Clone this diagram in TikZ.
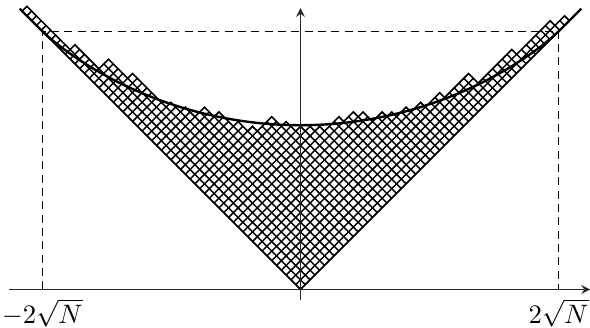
\documentclass[tikz,border=0pt]{standalone}
\usepackage{amsmath}
\usetikzlibrary{arrows.meta}

\begin{document}
\begin{tikzpicture}[
    x=1.8pt, y=1.8pt,
    >=stealth,
    axis/.style={->, line width=0.45pt, black!85},
    guide/.style={line width=0.4pt, dash pattern=on 3pt off 2pt},
    cell/.style={line width=0.55pt, line join=miter},
    limit/.style={line width=0.9pt}
]
\useasboundingbox (-62.6,-7.83) rectangle (60.3,60.3);

% Corners of the diagram outline (up and down steps)
\def\corners{-57/59, -48/50, -47/51, -42/46, -40/48, -36/44, -35/45,
  -28/38, -27/39, -25/37, -24/38, -22/36, -20/38, -18/36, -17/37,
  -14/34, -13/35, -11/33, -10/34, -9/33, -6/36, -4/34, -3/35, -1/33,
  0/34, 1/33, 2/34, 3/33, 4/34, 5/33, 8/36, 9/35, 11/37, 12/36, 13/37,
  15/35, 17/37, 18/36, 19/37, 20/36, 22/38, 23/37, 25/39, 26/38, 29/41,
  30/40, 35/45, 37/43, 44/50, 45/49, 52/56, 53/55, 55/57, 56/56}

% Dashed guides at +-2 sqrt N
\coordinate (gl) at (-53.75,0);
\coordinate (gr) at (53.75,0);
\coordinate (tl) at (-53.75,53.75);
\coordinate (tr) at (53.75,53.75);
\draw[guide] (gl) -- (tl) -- (tr) -- (gr);

% Cells
\begin{scope}
    \clip (0,0) -- (-58,58) \foreach \x/\y in \corners {-- (\x,\y)} -- cycle;
    \foreach \r in {0,...,58}
        \draw[cell] (-\r,\r) -- ++(62,62);
    \foreach \c in {0,...,56}
        \draw[cell] (\c,\c) -- ++(-62,62);
\end{scope}
\draw[cell] (0,0) -- (-58,58) \foreach \x/\y in \corners {-- (\x,\y)} -- cycle;

% Limit shape
\draw[limit] (-58.5,58.5) -- (tl)
    -- plot[domain=-53.7:53.7, samples=121]
       (\x, {0.63662*(\x*rad(asin(\x/53.75)) + sqrt(max(0,2889.0625-\x*\x)))})
    -- (tr) -- (58.5,58.5);

% Axes
\coordinate (xa) at (-60.7,0);
\coordinate (xb) at (60.3,0);
\coordinate (ya) at (0,-2.2);
\coordinate (yb) at (0,58.6);
\draw[axis] (xa) -- (xb);
\draw[axis] (ya) -- (yb);

% Labels
\node[below] (lminus) at (gl) {$-2\sqrt{N}$};
\node[below] (lplus) at (gr) {$2\sqrt{N}$};

\end{tikzpicture}
\end{document}
